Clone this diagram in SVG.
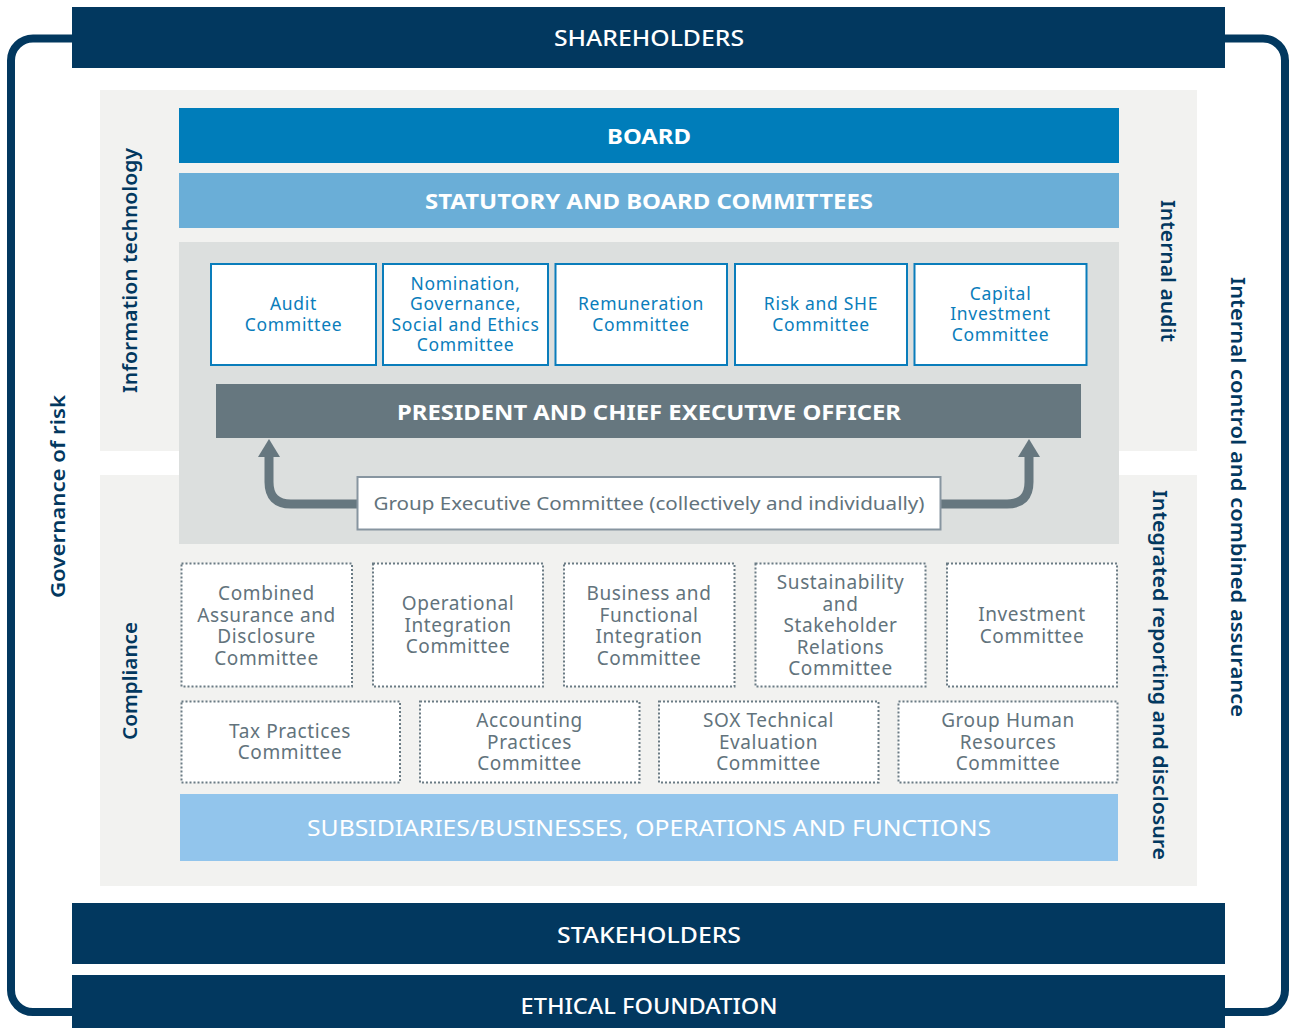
<svg xmlns="http://www.w3.org/2000/svg" width="1289" height="1028" viewBox="0 0 1289 1028">
<defs>
<style>
text{font-family:"Noto Sans","DejaVu Sans",sans-serif;text-anchor:middle}
.bar{fill:#02385f}
.bt{fill:#fff;font-size:22px;font-weight:500}
.bb{fill:#fff;font-size:22px;font-weight:700}
.side{fill:#02385f;font-size:20.5px;font-weight:600}
.cb{fill:#fff;stroke:#0a7dbb;stroke-width:2}
.ct{fill:#0a7dbb;font-size:17.5px;letter-spacing:0.7px}
.db{fill:#fff;stroke:#6a7b84;stroke-width:2;stroke-dasharray:2 2}
.dt{fill:#62737c;font-size:19px;letter-spacing:0.6px}
.arr{fill:none;stroke:#66777f;stroke-width:9}
.head{fill:#66777f}
</style>
</defs>
<rect width="1289" height="1028" fill="#fff"/>
<g id="frame">
<rect x="11" y="38.5" width="1274" height="973.5" rx="22" fill="none" stroke="#02385f" stroke-width="8"/>
</g>
<g id="panels">
<rect x="100" y="90" width="1097" height="361" fill="#f2f2f0"/>
<rect x="100" y="475" width="1097" height="411" fill="#f2f2f0"/>
<rect x="179" y="242" width="940" height="302" fill="#dcdfde"/>
</g>
<g id="shareholders"><rect class="bar" x="72" y="7" width="1153" height="61"/><text class="bt" x="649" y="45.5" textLength="190" lengthAdjust="spacingAndGlyphs">SHAREHOLDERS</text></g>
<g id="board"><rect x="179" y="108" width="940" height="55" fill="#007dba"/><text class="bb" x="649" y="143.5" textLength="84" lengthAdjust="spacingAndGlyphs">BOARD</text></g>
<g id="statutory"><rect x="179" y="173" width="940" height="55" fill="#6aaed7"/><text class="bb" x="649" y="208.5" textLength="448" lengthAdjust="spacingAndGlyphs">STATUTORY AND BOARD COMMITTEES</text></g>
<g id="audit"><rect class="cb" x="211" y="264" width="165" height="101"/><text class="ct" x="293.5" y="310">Audit</text><text class="ct" x="293.5" y="330.5">Committee</text></g>
<g id="nomination"><rect class="cb" x="383" y="264" width="165" height="101"/><text class="ct" x="465.5" y="290">Nomination,</text><text class="ct" x="465.5" y="310">Governance,</text><text class="ct" x="465.5" y="330.5">Social and Ethics</text><text class="ct" x="465.5" y="351">Committee</text></g>
<g id="remuneration"><rect class="cb" x="555.5" y="264" width="171.5" height="101"/><text class="ct" x="641" y="310">Remuneration</text><text class="ct" x="641" y="330.5">Committee</text></g>
<g id="risk"><rect class="cb" x="735" y="264" width="172" height="101"/><text class="ct" x="821" y="310">Risk and SHE</text><text class="ct" x="821" y="330.5">Committee</text></g>
<g id="capital"><rect class="cb" x="914.5" y="264" width="172" height="101"/><text class="ct" x="1000.5" y="299.5">Capital</text><text class="ct" x="1000.5" y="320">Investment</text><text class="ct" x="1000.5" y="341">Committee</text></g>
<g id="ceo"><rect x="216" y="384" width="865" height="54" fill="#66777f"/><text class="bb" x="649" y="419.5" textLength="504" lengthAdjust="spacingAndGlyphs">PRESIDENT AND CHIEF EXECUTIVE OFFICER</text></g>
<g id="connectors">
<path class="arr" d="M358,504 H291 Q269,504 269,482 V455"/>
<polygon class="head" points="269,439 280,457 258,457"/>
<path class="arr" d="M940,504 H1007 Q1029,504 1029,482 V455"/>
<polygon class="head" points="1029,439 1040,457 1018,457"/>
</g>
<g id="gec"><rect x="357.5" y="477" width="583" height="52.5" fill="#fff" stroke="#8795a0" stroke-width="2"/><text x="649" y="509.5" fill="#62737c" font-size="18.5" textLength="551" lengthAdjust="spacingAndGlyphs">Group Executive Committee (collectively and individually)</text></g>
<g id="combined"><rect class="db" x="181.5" y="563.5" width="170.5" height="123"/><text class="dt" x="266.5" y="600">Combined</text><text class="dt" x="266.5" y="621.5">Assurance and</text><text class="dt" x="266.5" y="643">Disclosure</text><text class="dt" x="266.5" y="664.5">Committee</text></g>
<g id="operational"><rect class="db" x="373" y="563.5" width="170" height="123"/><text class="dt" x="458" y="610">Operational</text><text class="dt" x="458" y="631.5">Integration</text><text class="dt" x="458" y="653">Committee</text></g>
<g id="business"><rect class="db" x="564" y="563.5" width="170.5" height="123"/><text class="dt" x="649" y="600">Business and</text><text class="dt" x="649" y="621.5">Functional</text><text class="dt" x="649" y="643">Integration</text><text class="dt" x="649" y="664.5">Committee</text></g>
<g id="sustainability"><rect class="db" x="755.5" y="563.5" width="170" height="123"/><text class="dt" x="840.5" y="589">Sustainability</text><text class="dt" x="840.5" y="610.5">and</text><text class="dt" x="840.5" y="632">Stakeholder</text><text class="dt" x="840.5" y="653.5">Relations</text><text class="dt" x="840.5" y="675">Committee</text></g>
<g id="investment"><rect class="db" x="947" y="563.5" width="170" height="123"/><text class="dt" x="1032" y="621">Investment</text><text class="dt" x="1032" y="642.5">Committee</text></g>
<g id="tax"><rect class="db" x="181.5" y="701.5" width="218.5" height="81"/><text class="dt" x="290" y="737.5">Tax Practices</text><text class="dt" x="290" y="759">Committee</text></g>
<g id="accounting"><rect class="db" x="420" y="701.5" width="219.5" height="81"/><text class="dt" x="529.5" y="727">Accounting</text><text class="dt" x="529.5" y="748.5">Practices</text><text class="dt" x="529.5" y="770">Committee</text></g>
<g id="sox"><rect class="db" x="659" y="701.5" width="219.5" height="81"/><text class="dt" x="768.5" y="727">SOX Technical</text><text class="dt" x="768.5" y="748.5">Evaluation</text><text class="dt" x="768.5" y="770">Committee</text></g>
<g id="hr"><rect class="db" x="898.5" y="701.5" width="219" height="81"/><text class="dt" x="1008" y="727">Group Human</text><text class="dt" x="1008" y="748.5">Resources</text><text class="dt" x="1008" y="770">Committee</text></g>
<g id="subsidiaries"><rect x="180" y="794" width="938" height="67" fill="#92c5ec"/><text x="649" y="835.5" fill="#fff" font-size="22" textLength="684" lengthAdjust="spacingAndGlyphs">SUBSIDIARIES/BUSINESSES, OPERATIONS AND FUNCTIONS</text></g>
<g id="stakeholders"><rect class="bar" x="72" y="903" width="1153" height="61"/><text class="bt" x="649" y="942.5" textLength="184" lengthAdjust="spacingAndGlyphs">STAKEHOLDERS</text></g>
<g id="ethical"><rect class="bar" x="72" y="975" width="1153" height="53"/><text class="bt" x="649" y="1013.5" textLength="257" lengthAdjust="spacingAndGlyphs">ETHICAL FOUNDATION</text></g>
<g id="side-labels">
<text class="side" transform="translate(65,496.5) rotate(-90)" textLength="203" lengthAdjust="spacingAndGlyphs">Governance of risk</text>
<text class="side" transform="translate(137,270.5) rotate(-90)" textLength="245" lengthAdjust="spacingAndGlyphs">Information technology</text>
<text class="side" transform="translate(137,681) rotate(-90)" textLength="118" lengthAdjust="spacingAndGlyphs">Compliance</text>
<text class="side" transform="translate(1161,271) rotate(90)" textLength="142" lengthAdjust="spacingAndGlyphs">Internal audit</text>
<text class="side" transform="translate(1153,675) rotate(90)" textLength="370" lengthAdjust="spacingAndGlyphs">Integrated reporting and disclosure</text>
<text class="side" transform="translate(1231,497) rotate(90)" textLength="440" lengthAdjust="spacingAndGlyphs">Internal control and combined assurance</text>
</g>
</svg>
